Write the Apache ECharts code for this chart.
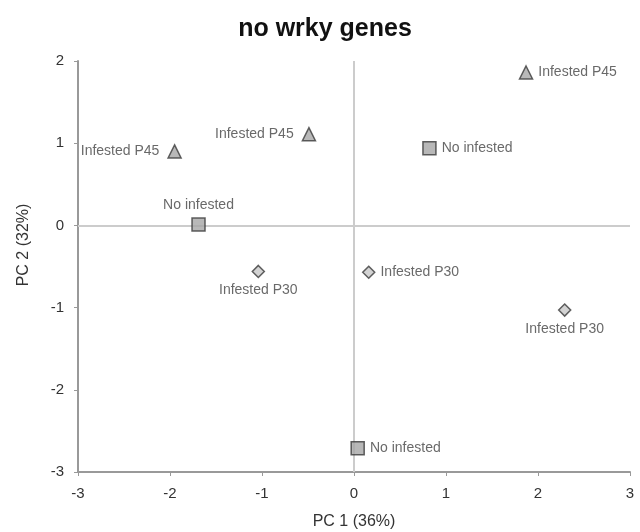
<!DOCTYPE html>
<html>
<head>
<meta charset="utf-8">
<title>no wrky genes</title>
<script src="https://cdn.jsdelivr.net/npm/echarts@6/dist/echarts.min.js"></script>
<style>
  html, body { margin: 0; padding: 0; background: #fff; }
  #main { width: 640px; height: 532px; }
</style>
</head>
<body>
<div id="main"></div>
<script>
// PCA scores
const p45X = [1.87, -1.95, -0.49];
const p45Y = [1.86, 0.90, 1.11];
const noInfX = [0.82, -1.69, 0.04];
const noInfY = [0.94, 0.01, -2.71];
const p30X = [-1.04, 0.16, 2.29];
const p30Y = [-0.56, -0.57, -1.03];

const groupNames = ['Infested P45', 'No infested', 'Infested P30'];
// where each point's label sits
const p45LabelPos = ['right', 'left', 'left'];
const noInfLabelPos = ['right', 'top', 'right'];
const p30LabelPos = ['bottom', 'right', 'bottom'];

const FONT = 'Liberation Sans, Arial, sans-serif';
const labelFont = { fontFamily: FONT, fontSize: 14, color: '#444' };

function pts(xs, ys, pos) {
  return xs.map((x, i) => ({
    value: [x, ys[i]],
    label: { position: pos[i], distance: pos[i] === 'left' ? 8 : 5 }
  }));
}

function mkSeries(name, xs, ys, pos, symbol, size, fill) {
  return {
    name: name,
    type: 'scatter',
    symbol: symbol,
    symbolSize: size,
    itemStyle: { color: fill, borderColor: '#3a3a3a', borderWidth: 1.5 },
    label: Object.assign({ show: true, formatter: name }, labelFont),
    data: pts(xs, ys, pos),
    z: 5
  };
}

const chart = echarts.init(document.getElementById('main'));
chart.setOption({
  backgroundColor: '#fff',
  animation: false,
  title: {
    text: 'no wrky genes',
    left: 320,
    top: 12,
    textAlign: 'center',
    textStyle: { fontFamily: FONT, fontSize: 25, fontWeight: 'bold', color: '#111' }
  },
  graphic: [{
    type: 'text',
    x: 16,
    y: 245,
    rotation: Math.PI / 2,
    style: {
      text: 'PC 2 (32%)',
      font: '16px ' + FONT,
      fill: '#333',
      align: 'center',
      verticalAlign: 'top'
    }
  }],
  grid: { left: 78, right: 10, top: 61, bottom: 60, outerBoundsMode: 'none', containLabel: false },
  xAxis: {
    type: 'value',
    min: -3, max: 3, interval: 1,
    name: 'PC 1 (36%)',
    nameLocation: 'middle',
    nameGap: 42,
    nameTextStyle: { fontFamily: FONT, fontSize: 16, color: '#333' },
    axisLine: { onZero: false, lineStyle: { color: '#999', width: 2 } },
    axisTick: { show: true, length: 4, lineStyle: { color: '#999' } },
    axisLabel: { margin: 14, fontFamily: FONT, fontSize: 15, color: '#333' },
    splitLine: { show: false }
  },
  yAxis: {
    type: 'value',
    min: -3, max: 2, interval: 1,
    axisLine: { onZero: false, lineStyle: { color: '#999', width: 2 } },
    axisTick: { show: true, length: 4, lineStyle: { color: '#999' } },
    axisLabel: { margin: 14, fontFamily: FONT, fontSize: 15, color: '#333' },
    splitLine: { show: false }
  },
  series: [
    {
      type: 'scatter',
      data: [],
      silent: true,
      markLine: {
        silent: true,
        symbol: 'none',
        label: { show: false },
        lineStyle: { color: '#ccc', width: 2, type: 'solid' },
        data: [{ xAxis: 0 }, { yAxis: 0 }]
      },
      z: 1
    },
    mkSeries(groupNames[0], p45X, p45Y, p45LabelPos, 'triangle', 13, '#a8a8a8'),
    mkSeries(groupNames[1], noInfX, noInfY, noInfLabelPos, 'rect', 13, '#a6a6a6'),
    mkSeries(groupNames[2], p30X, p30Y, p30LabelPos, 'diamond', 12, '#c8c8c8')
  ]
});
</script>
</body>
</html>
